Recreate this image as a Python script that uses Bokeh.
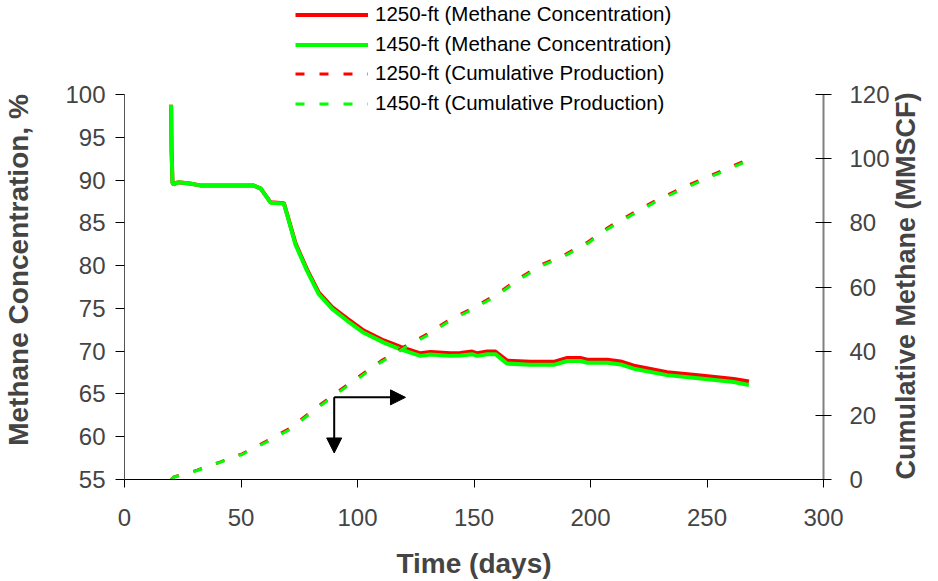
import math
from bokeh.plotting import figure
from bokeh.layouts import column
from bokeh.models import Range1d, LinearAxis, FixedTicker, Legend, LegendItem, Arrow, NormalHead
from bokeh.embed import file_html
from bokeh.resources import INLINE

# ---------------- data ----------------
t_conc = [20, 20.2, 20.6, 21, 23, 28, 33, 55.5, 58.5, 62.7, 68.4, 69.8, 73.4, 78.4, 83.4,
          89.1, 95.6, 102.7, 111.3, 118.5, 127, 131.3, 139.9, 144.2, 149.2, 151.4, 155.7,
          159.2, 164.2, 174.2, 184.2, 190, 195.7, 198.6, 207.2, 212.9, 218.6, 232.9,
          247.2, 261.5, 268]
conc_1250 = [98.8, 93.5, 89.7, 89.5, 89.75, 89.6, 89.35, 89.35, 89.0, 87.4, 87.3, 86.0,
             82.6, 79.5, 76.85, 75.15, 73.8, 72.4, 71.25, 70.5, 69.75, 69.9, 69.75, 69.8,
             69.95, 69.75, 69.95, 69.95, 68.9, 68.75, 68.75, 69.2, 69.2, 69.0, 69.0,
             68.8, 68.3, 67.55, 67.15, 66.75, 66.45]
conc_1450 = [98.8, 93.5, 89.7, 89.5, 89.75, 89.6, 89.35, 89.35, 89.0, 87.35, 87.25, 85.95,
             82.45, 79.35, 76.65, 74.95, 73.55, 72.15, 71.0, 70.2, 69.45, 69.6, 69.45,
             69.5, 69.65, 69.45, 69.65, 69.65, 68.55, 68.4, 68.4, 68.85, 68.85, 68.65,
             68.65, 68.45, 67.95, 67.2, 66.8, 66.4, 66.05]

t_cum = [20, 21.2, 31.2, 41.2, 50.5, 60.8, 70.8, 80.5, 90.6, 100.1, 110, 120.6, 129.9,
         139.9, 149.9, 159.9, 169.2, 179.3, 189.3, 198.6, 207.9, 217.9, 227.9, 237.9,
         247.9, 257.2, 266.5, 268]
cum_1250 = [0, 0.8, 2.9, 5.5, 8.0, 11.9, 15.9, 21.4, 26.9, 31.8, 36.9, 41.6, 45.3, 50.0,
            53.6, 57.8, 62.6, 67.1, 70.2, 73.9, 78.7, 82.9, 86.9, 90.4, 93.6, 96.5,
            99.4, 99.7]
cum_1450 = [0, 0.7, 2.8, 5.4, 7.8, 11.6, 15.5, 21.0, 26.5, 31.4, 36.5, 41.2, 44.9, 49.6,
            53.2, 57.4, 62.2, 66.7, 69.8, 73.5, 78.3, 82.5, 86.5, 90.0, 93.2, 96.1,
            99.0, 99.3]

x_ticks = [0, 50, 100, 150, 200, 250, 300]
left_ticks = [55, 60, 65, 70, 75, 80, 85, 90, 95, 100]
right_ticks = [0, 20, 40, 60, 80, 100, 120]

labels = ["1250-ft (Methane Concentration)", "1450-ft (Methane Concentration)",
          "1250-ft (Cumulative Production)", "1450-ft (Cumulative Production)"]

arrow_corner_t = 90
arrow_corner_c = 64.6
arrow_right_t = 120.6
arrow_down_c = 58.1

# ---------------- layout ----------------
FONT = "Liberation Sans"
W, H = 938, 581
TOP_H = 60                       # strip holding the first legend rows
B_LEFT, B_RIGHT, B_BOTTOM = 124, 115, 102
AXIS_TOP = 94                    # canvas y of the 100 / 120 ticks
AXIS_BOTTOM = 479                # canvas y of the 55 / 0 ticks
MAIN_H = H - TOP_H
FRAME_H = MAIN_H - B_BOTTOM
AXIS_PX = AXIS_BOTTOM - AXIS_TOP
left_lo, left_hi = left_ticks[0], left_ticks[-1]
right_lo, right_hi = right_ticks[0], right_ticks[-1]
y_top = left_lo + (left_hi - left_lo) * FRAME_H / AXIS_PX
r_top = right_lo + (right_hi - right_lo) * FRAME_H / AXIS_PX

RED, GREEN = "#FF0000", "#00FF00"
SOLID_W, DASH_W, DASH = 4, 3, "9 15"
LEG_X = 295 - B_LEFT             # legend x, relative to the (aligned) frames

# top strip (legend rows 1-2); its frame is aligned with the main frame by the column
top = figure(width=W, height=TOP_H, x_range=Range1d(x_ticks[0], x_ticks[-1]),
             y_range=Range1d(0, 1),
             x_axis_location=None, y_axis_location=None,
             output_backend="svg", toolbar_location=None,
             min_border_left=B_LEFT, min_border_right=B_RIGHT, min_border_top=0,
             min_border_bottom=0)
top.outline_line_color = None
top.background_fill_color = "white"
top.border_fill_color = "white"
top.grid.visible = False
# same series, but outside this strip's y range: only their legend samples show
d1 = top.line(t_conc, conc_1250, line_color=RED, line_width=SOLID_W)
d2 = top.line(t_conc, conc_1450, line_color=GREEN, line_width=SOLID_W)

legend_style = dict(orientation="vertical", glyph_width=73, glyph_height=23, label_height=23,
                    spacing=6, label_standoff=7, padding=0, margin=0,
                    border_line_color=None, background_fill_alpha=0,
                    label_text_font=FONT, label_text_font_size="20.5px",
                    label_text_color="black")
top.add_layout(Legend(items=[LegendItem(label=labels[0], renderers=[d1]),
                             LegendItem(label=labels[1], renderers=[d2])],
                     location=(LEG_X, 4), **legend_style), "center")

# main chart
p = figure(width=W, height=MAIN_H, x_range=Range1d(x_ticks[0], x_ticks[-1]),
           y_range=Range1d(left_lo, y_top),
           output_backend="svg", toolbar_location=None,
           min_border_left=B_LEFT, min_border_right=B_RIGHT, min_border_top=0,
           min_border_bottom=B_BOTTOM)
p.extra_y_ranges = {"cum": Range1d(right_lo, r_top)}
p.outline_line_color = None
p.xgrid.visible = False
p.ygrid.visible = False
p.background_fill_color = "white"
p.border_fill_color = "white"

# x axis
xa = p.xaxis[0]
xa.ticker = FixedTicker(ticks=x_ticks)
xa.axis_label = "Time (days)"
xa.axis_line_color = "black"
xa.major_tick_line_color = "black"
xa.major_tick_in = 0
xa.major_tick_out = 8
xa.minor_tick_line_color = None
xa.major_label_standoff = 21
xa.major_label_text_font = FONT
xa.major_label_text_font_size = "24px"
xa.axis_label_text_font = FONT
xa.axis_label_text_font_size = "28px"
xa.axis_label_text_font_style = "bold"
xa.axis_label_standoff = 19

# left axis
ya = p.yaxis[0]
ya.ticker = FixedTicker(ticks=left_ticks)
ya.bounds = (left_lo, left_hi)
ya.axis_label = "Methane Concentration, %"
ya.axis_line_color = "#555555"
ya.major_tick_line_color = "black"
ya.major_tick_in = 0
ya.major_tick_out = 9
ya.minor_tick_line_color = None
ya.major_label_standoff = 10
ya.major_label_text_font = FONT
ya.major_label_text_font_size = "24px"
ya.axis_label_text_font = FONT
ya.axis_label_text_font_size = "28px"
ya.axis_label_text_font_style = "bold"
ya.axis_label_standoff = 28

# right axis
ra = LinearAxis(y_range_name="cum", ticker=FixedTicker(ticks=right_ticks),
                axis_label="Cumulative Methane (MMSCF)", bounds=(right_lo, right_hi))
ra.axis_line_color = "#808080"
ra.axis_line_width = 2
ra.major_tick_line_color = "black"
ra.major_tick_in = 8
ra.major_tick_out = 8
ra.minor_tick_line_color = None
ra.major_label_standoff = 18
ra.major_label_text_font = FONT
ra.major_label_text_font_size = "24px"
ra.axis_label_text_font = FONT
ra.axis_label_text_font_size = "27px"
ra.axis_label_text_font_style = "bold"
ra.axis_label_standoff = 13
try:
    ra.axis_label_align = "start"
    ra.axis_label_orientation = math.pi / 2   # read bottom-to-top like the left title
except Exception:
    pass
p.add_layout(ra, "right")

# lines
r1 = p.line(t_conc, conc_1250, line_color=RED, line_width=SOLID_W)
r2 = p.line(t_conc, conc_1450, line_color=GREEN, line_width=SOLID_W)
r3 = p.line(t_cum, cum_1250, y_range_name="cum", line_color=RED, line_width=DASH_W,
            line_dash=DASH)
r4 = p.line(t_cum, cum_1450, y_range_name="cum", line_color=GREEN, line_width=DASH_W,
            line_dash=DASH)

# arrows
p.add_layout(Arrow(end=NormalHead(size=15, fill_color="black", line_color="black"),
                   x_start=arrow_corner_t, y_start=arrow_corner_c,
                   x_end=arrow_right_t, y_end=arrow_corner_c,
                   line_color="black", line_width=2))
p.add_layout(Arrow(end=NormalHead(size=15, fill_color="black", line_color="black"),
                   x_start=arrow_corner_t, y_start=arrow_corner_c,
                   x_end=arrow_corner_t, y_end=arrow_down_c,
                   line_color="black", line_width=2))

# legend rows 3-4 (row 3 centred at canvas y 74)
p.add_layout(Legend(items=[LegendItem(label=labels[2], renderers=[r3]),
                           LegendItem(label=labels[3], renderers=[r4])],
                    location=(LEG_X, FRAME_H - 55), **legend_style), "center")

layout = column(top, p, spacing=0)
open("out.html", "w").write(file_html(layout, INLINE))
